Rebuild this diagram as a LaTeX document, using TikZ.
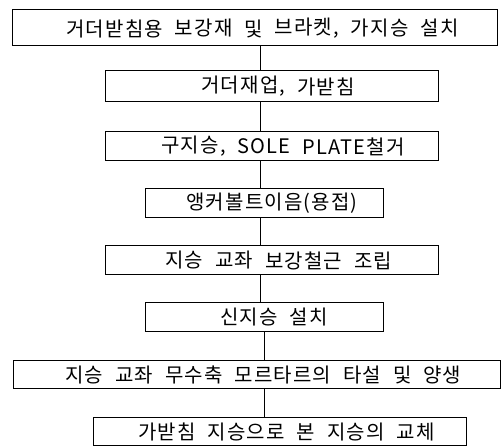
\documentclass[tikz,border=0pt]{standalone}
\usepackage{fontspec}
\setmainfont{Noto Sans CJK KR}[LetterSpace=6]
\begin{document}
\begin{tikzpicture}[x=1pt,y=-1pt,
  box/.style={draw, line width=0.8pt, inner sep=0pt, minimum height=29pt},
  wd/.style={font=\fontsize{20}{20}\selectfont, inner sep=0pt, anchor=west},
  gap/.style={xshift=11.5pt},
  conn/.style={line width=0.8pt}]
\useasboundingbox (0,0) rectangle (503,446);
% boxes
\node[box, minimum width=485pt, minimum height=36pt] (b1) at (254.5,27) {};
\node[box, minimum width=333pt, minimum height=31pt] (b2) at (271.5,85.5) {};
\node[box, minimum width=333pt] (b3) at (271.5,145.5) {};
\node[box, minimum width=238pt] (b4) at (264,202.5) {};
\node[box, minimum width=333pt] (b5) at (271.5,259.5) {};
\node[box, minimum width=238pt] (b6) at (264,316.5) {};
\node[box, minimum width=487pt, minimum height=28pt] (b7) at (256.5,374) {};
\node[box, minimum width=373pt, minimum height=28pt] (b8) at (279.5,431) {};
% line 1
\node[wd] (w11) at (66,28.5) {거더받침용};
\node[wd] (w12) at ([gap]w11.east) {보강재};
\node[wd] (w13) at ([gap]w12.east) {및};
\node[wd] (w14) at ([gap]w13.east) {브라켓,};
\node[wd] (w15) at ([gap]w14.east) {가지승};
\node[wd] (w16) at ([gap]w15.east) {설치};
% line 2
\node[wd] (w21) at (201,86.5) {거더재업,};
\node[wd] (w22) at ([gap]w21.east) {가받침};
% line 3
\node[wd] (w31) at (161,146.5) {구지승,};
\node[wd] (w32) at ([gap]w31.east) {SOLE};
\node[wd] (w33) at ([gap]w32.east) {PLATE철거};
% line 4
\node[wd] (w41) at (186,203.5) {앵커볼트이음(용접)};
% line 5
\node[wd] (w51) at (165,260.5) {지승};
\node[wd] (w52) at ([gap]w51.east) {교좌};
\node[wd] (w53) at ([gap]w52.east) {보강철근};
\node[wd] (w54) at ([gap]w53.east) {조립};
% line 6
\node[wd] (w61) at (220,317.5) {신지승};
\node[wd] (w62) at ([gap]w61.east) {설치};
% line 7
\node[wd] (w71) at (65,375) {지승};
\node[wd] (w72) at ([gap]w71.east) {교좌};
\node[wd] (w73) at ([gap]w72.east) {무수축};
\node[wd] (w74) at ([gap]w73.east) {모르타르의};
\node[wd] (w75) at ([gap]w74.east) {타설};
\node[wd] (w76) at ([gap]w75.east) {및};
\node[wd] (w77) at ([gap]w76.east) {양생};
% line 8
\node[wd] (w81) at (138,432) {가받침};
\node[wd] (w82) at ([gap]w81.east) {지승으로};
\node[wd] (w83) at ([gap]w82.east) {본};
\node[wd] (w84) at ([gap]w83.east) {지승의};
\node[wd] (w85) at ([gap]w84.east) {교체};
% connectors
\coordinate (ca) at (260,0);
\coordinate (cb) at (264,0);
\draw[conn] (b1.south -| ca) -- (b2.north -| ca);
\draw[conn] (b2.south -| ca) -- (b3.north -| ca);
\draw[conn] (b3.south -| ca) -- (b4.north -| ca);
\draw[conn] (b4.south -| ca) -- (b5.north -| ca);
\draw[conn] (b5.south -| ca) -- (b6.north -| ca);
\draw[conn] (b6.south -| cb) -- (b7.north -| cb);
\draw[conn] (b7.south -| cb) -- (b8.north -| cb);
\end{tikzpicture}
\end{document}
